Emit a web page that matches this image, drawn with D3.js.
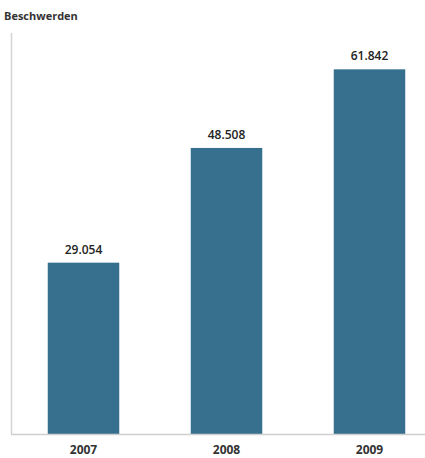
<!DOCTYPE html>
<html>
<head>
<meta charset="utf-8">
<script src="https://cdn.jsdelivr.net/npm/d3@7"></script>
<style>
  body { margin: 0; background: #fff; }
  text { font-family: "Open Sans", "DejaVu Sans", sans-serif; }
</style>
</head>
<body>
<div id="chart-area"></div>
<script>
const years = ["2007", "2008", "2009"];
const complaints = [29054, 48508, 61842];
const valueLabels = ["29.054", "48.508", "61.842"];

const W = 425, H = 458;
const margin = { top: 33, right: 0, bottom: 24, left: 12 };
const baseY = H - margin.bottom;

const svg = d3.select("#chart-area")
  .append("svg")
  .attr("width", W)
  .attr("height", H);

const x = d3.scaleBand().domain(years).range([12, 441]).paddingInner(0.5).paddingOuter(0.25);
const y = d3.scaleLinear().domain([0, 68000]).range([baseY, margin.top]);

// left axis line
svg.append("line")
  .attr("x1", 11.5).attr("x2", 11.5)
  .attr("y1", margin.top).attr("y2", baseY)
  .attr("stroke", "#d4d4d4").attr("stroke-width", 1.5);

svg.append("text")
  .attr("x", 4).attr("y", 20)
  .attr("font-size", "11px")
  .attr("font-weight", "bold")
  .attr("fill", "#333")
  .text("Beschwerden");

svg.selectAll("rect.bar")
  .data(complaints)
  .join("rect")
  .attr("class", "bar")
  .attr("x", (d, i) => x(years[i]))
  .attr("y", d => y(d))
  .attr("width", x.bandwidth())
  .attr("height", d => baseY - y(d))
  .attr("fill", "#37708f");

svg.append("line")
  .attr("x1", 11).attr("x2", W)
  .attr("y1", baseY + 0.5).attr("y2", baseY + 0.5)
  .attr("stroke", "#cfcfcf").attr("stroke-width", 1.5);

svg.selectAll("text.val")
  .data(complaints)
  .join("text")
  .attr("class", "val")
  .attr("x", (d, i) => x(years[i]) + x.bandwidth() / 2)
  .attr("y", d => y(d) - 9)
  .attr("text-anchor", "middle")
  .attr("font-size", "12px")
  .attr("font-weight", "600")
  .attr("fill", "#222")
  .text((d, i) => valueLabels[i]);

svg.selectAll("text.year")
  .data(years)
  .join("text")
  .attr("class", "year")
  .attr("x", d => x(d) + x.bandwidth() / 2)
  .attr("y", baseY + 20)
  .attr("text-anchor", "middle")
  .attr("font-size", "12px")
  .attr("font-weight", "bold")
  .attr("fill", "#333")
  .text(d => d);
</script>
</body>
</html>
